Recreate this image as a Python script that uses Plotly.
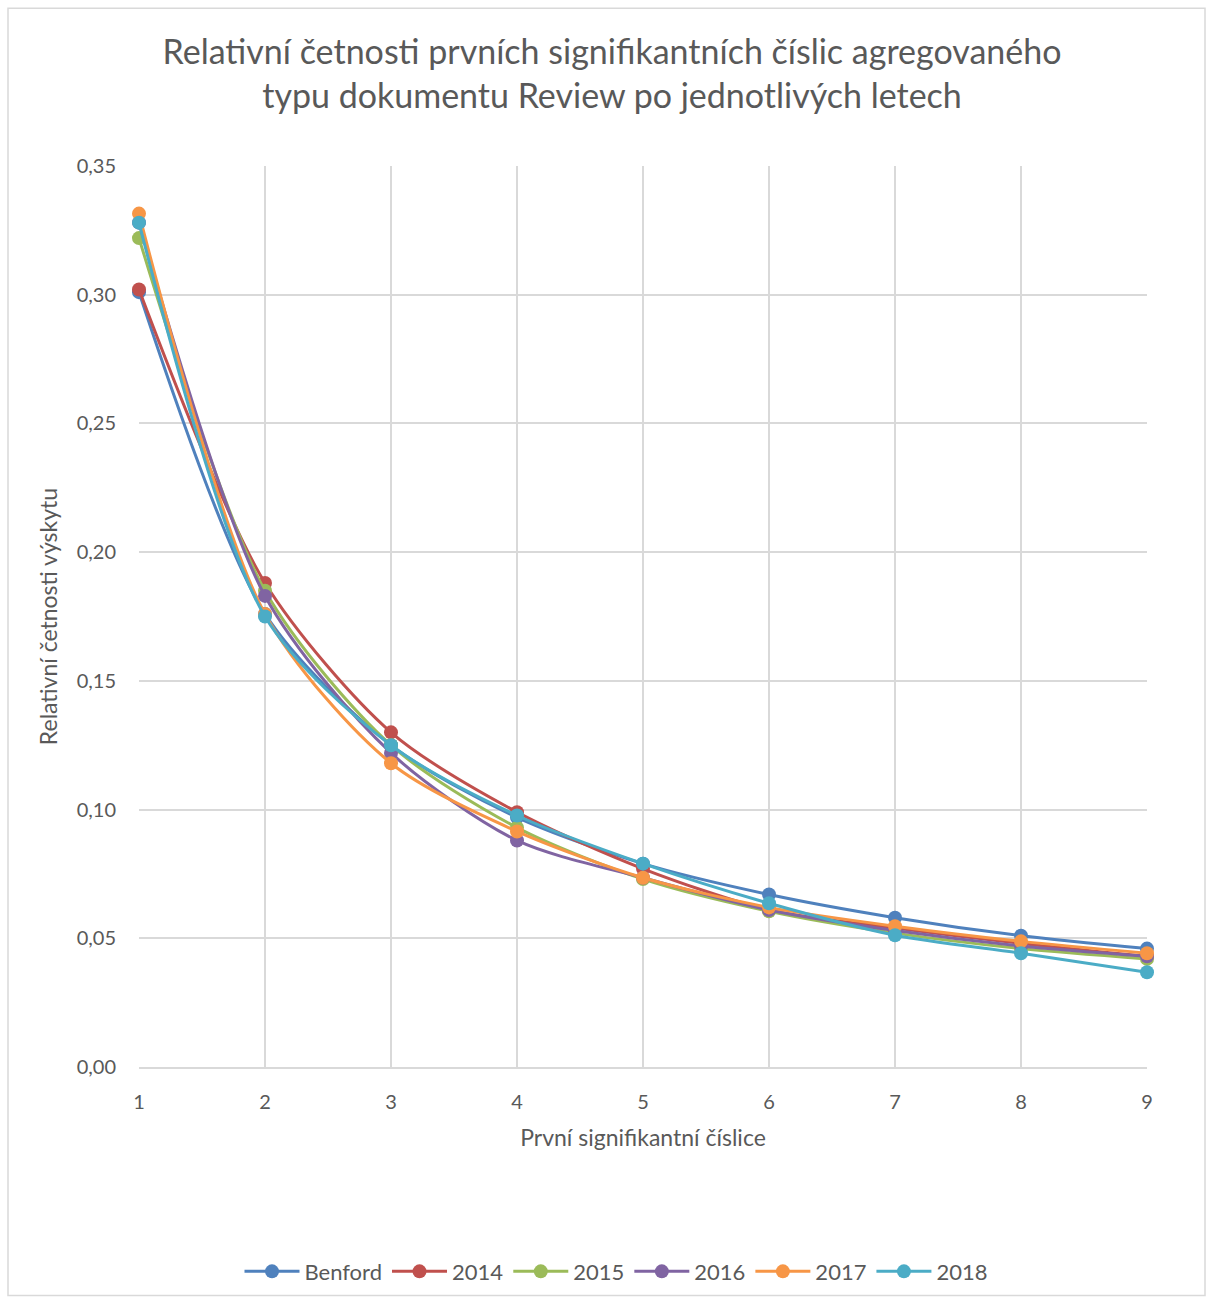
import plotly.graph_objects as go

digits = [1, 2, 3, 4, 5, 6, 7, 8, 9]
series_names = ["Benford", "2014", "2015", "2016", "2017", "2018"]
benford = [0.301, 0.176, 0.125, 0.097, 0.079, 0.067, 0.058, 0.051, 0.046]
y2014 = [0.302, 0.188, 0.130, 0.099, 0.077, 0.061, 0.054, 0.048, 0.043]
y2015 = [0.322, 0.185, 0.125, 0.093, 0.073, 0.0605, 0.052, 0.046, 0.042]
y2016 = [0.328, 0.183, 0.122, 0.088, 0.0735, 0.061, 0.053, 0.047, 0.043]
y2017 = [0.3315, 0.176, 0.118, 0.0915, 0.0735, 0.062, 0.0547, 0.0488, 0.0442]
y2018 = [0.328, 0.175, 0.125, 0.0977, 0.079, 0.0636, 0.0512, 0.0442, 0.0368]
colors = ["#4F81BD", "#C0504D", "#9BBB59", "#8064A2", "#F79646", "#4BACC6"]

all_series = [benford, y2014, y2015, y2016, y2017, y2018]

fig = go.Figure()
for name, vals, col in zip(series_names, all_series, colors):
    fig.add_trace(go.Scatter(
        x=digits, y=vals, name=name, mode="lines+markers",
        line=dict(color=col, width=3, shape="spline", smoothing=0.8),
        marker=dict(color=col, size=14), cliponaxis=False,
    ))

font_family = "Lato, 'Open Sans', sans-serif"
fig.update_layout(
    width=1213, height=1305,
    paper_bgcolor="white", plot_bgcolor="white",
    margin=dict(l=139, r=66, t=166, b=236),
    separators=", ",
    font=dict(family=font_family, color="#595959", size=20),
    title=dict(
        text="Relativní četnosti prvních signifikantních číslic agregovaného<br>typu dokumentu Review po jednotlivých letech",
        x=(612) / 1213, xanchor="center", y=1 - 64 / 1305, yanchor="middle",
        font=dict(size=34, color="#595959", family=font_family),
    ),
    xaxis=dict(
        range=[1, 9], tickvals=digits, showgrid=True, gridcolor="#D9D9D9", gridwidth=1.5,
        zeroline=False, showline=True, linecolor="#D9D9D9", linewidth=1.5,
        ticks="", ticklabelstandoff=16,
        title=dict(text="První signifikantní číslice", font=dict(size=23, color="#595959"), standoff=18),
        tickfont=dict(size=20, color="#595959"),
    ),
    yaxis=dict(
        range=[0, 0.35], dtick=0.05, tickformat=".2f", showgrid=True, gridcolor="#D9D9D9",
        gridwidth=1.5, zeroline=False, showline=False, ticks="", ticklabelstandoff=22,
        title=dict(text="Relativní četnosti výskytu", font=dict(size=23, color="#595959"), standoff=12),
        tickfont=dict(size=20, color="#595959"),
    ),
    legend=dict(
        orientation="h", x=(616 - 139) / 1008, xanchor="center", y=(1069 - 1274) / 903, yanchor="middle",
        font=dict(size=22, color="#595959"), itemwidth=55, tracegroupgap=0,
    ),
    shapes=[dict(
        type="rect", xref="paper", yref="paper",
        x0=(8 - 139) / 1008, x1=(1205 - 139) / 1008,
        y0=(1069 - 1298) / 903, y1=(1069 - 8) / 903,
        line=dict(color="#D9D9D9", width=1.5), fillcolor="rgba(0,0,0,0)", layer="below",
    )],
)

fig.write_html("out.html")
